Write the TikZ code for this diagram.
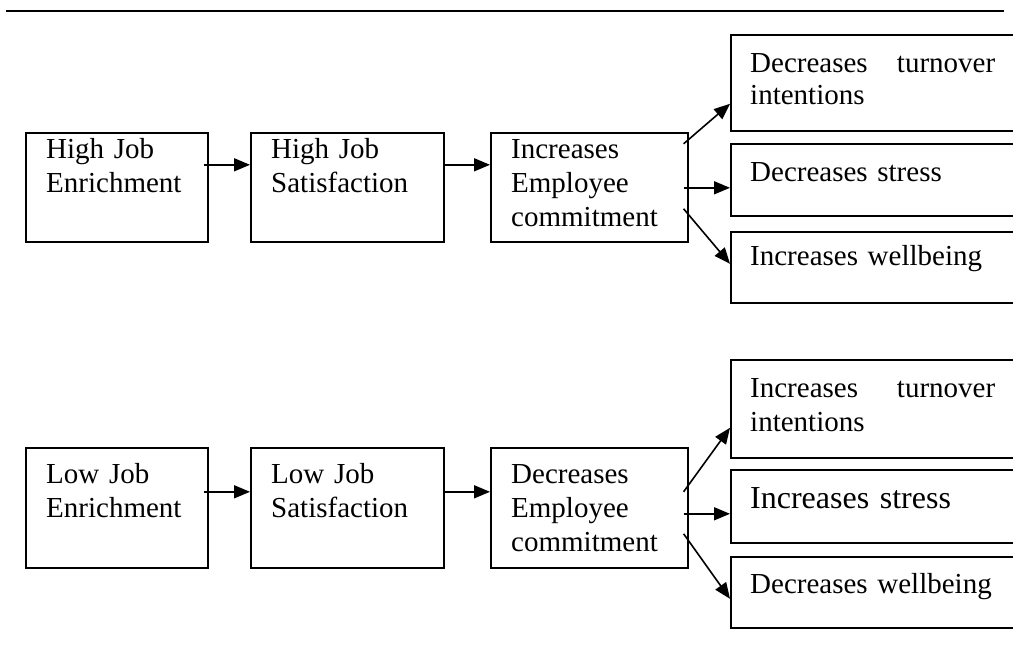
\documentclass[tikz,border=0pt]{standalone}
\usepackage{fontspec}
\setmainfont{Liberation Serif}
\usetikzlibrary{arrows.meta}
\begin{document}
\begin{tikzpicture}[x=1pt,y=-1pt,
  box/.style={draw, line width=1.6pt, rectangle, inner sep=0pt, anchor=north west},
  lbl/.style={anchor=base west, inner sep=0pt, align=left,
              font=\fontsize{29}{34}\selectfont},
  arr/.style={line width=1.6pt, -{Triangle[length=16pt,width=13pt]}},
  rule/.style={line width=1.5pt}]
\useasboundingbox (0,0) rectangle (1013,651);
\clip (0,0) rectangle (1013,651);

% header rule
\coordinate (rl) at (6,11);
\coordinate (rr) at (1004,11);
\draw[rule] (rl) -- (rr);

% ---- high enrichment chain ----
\node[box, minimum width=182pt, minimum height=109pt] (hje) at (25,132) {};
\node[box, minimum width=193pt, minimum height=109pt] (hjs) at (250,132) {};
\node[box, minimum width=197pt, minimum height=109pt] (iec) at (490,132) {};
\node[box, minimum width=300pt, minimum height=96pt]  (dti) at (730,34) {};
\node[box, minimum width=300pt, minimum height=72pt]  (dst) at (730,143) {};
\node[box, minimum width=300pt, minimum height=71pt]  (iwb) at (730,231) {};

\node[lbl, text width=160pt] (thje) at (46,158) {High Job\\Enrichment};
\node[lbl, text width=170pt] (thjs) at (271,158) {High Job\\Satisfaction};
\node[lbl, text width=175pt] (tiec) at (511,158) {Increases\\Employee\\commitment};
\node[lbl, text width=245pt, font=\fontsize{29}{32}\selectfont] (tdti) at (750,72)
  {Decreases\hfill turnover\\intentions};
\node[lbl, text width=245pt] (tdst) at (750,181) {Decreases stress};
\node[lbl, text width=245pt] (tiwb) at (750,265) {Increases wellbeing};

\draw[arr] ([xshift=-5pt,yshift=22.5pt]hje.east) -- ([yshift=22.5pt]hjs.west);
\draw[arr] ([yshift=22.5pt]hjs.east) -- ([yshift=22.5pt]iec.west);
\draw[arr] ([xshift=-5pt,yshift=43.5pt]iec.east) -- ([yshift=-21pt]dti.west);
\draw[arr] ([xshift=-5pt,yshift=-0.5pt]iec.east) -- ([yshift=-8pt]dst.west);
\draw[arr] ([xshift=-5pt,yshift=-21.5pt]iec.east) -- ([yshift=3.5pt]iwb.west);

% ---- low enrichment chain ----
\node[box, minimum width=182pt, minimum height=120pt] (lje) at (25,447) {};
\node[box, minimum width=193pt, minimum height=120pt] (ljs) at (250,447) {};
\node[box, minimum width=197pt, minimum height=120pt] (dec) at (490,447) {};
\node[box, minimum width=300pt, minimum height=98pt]  (iti) at (730,359) {};
\node[box, minimum width=300pt, minimum height=73pt]  (ist) at (730,469) {};
\node[box, minimum width=300pt, minimum height=71pt]  (dwb) at (730,556) {};

\node[lbl, text width=160pt] (tlje) at (46,483) {Low Job\\Enrichment};
\node[lbl, text width=170pt] (tljs) at (271,483) {Low Job\\Satisfaction};
\node[lbl, text width=175pt] (tdec) at (511,483) {Decreases\\Employee\\commitment};
\node[lbl, text width=245pt] (titi) at (750,397) {Increases\hfill turnover\\intentions};
\node[lbl, text width=245pt, font=\fontsize{32}{36}\selectfont] (tist) at (750,508) {Increases stress};
\node[lbl, text width=245pt] (tdwb) at (750,593) {Decreases wellbeing};

\draw[arr] ([xshift=-5pt,yshift=16pt]lje.east) -- ([yshift=16pt]ljs.west);
\draw[arr] ([yshift=16pt]ljs.east) -- ([yshift=16pt]dec.west);
\draw[arr] ([xshift=-5pt,yshift=16pt]dec.east) -- ([yshift=-19pt]iti.west);
\draw[arr] ([xshift=-5pt,yshift=-6pt]dec.east) -- ([yshift=-7.5pt]ist.west);
\draw[arr] ([xshift=-5pt,yshift=-26pt]dec.east) -- ([yshift=-6.5pt]dwb.west);
\end{tikzpicture}
\end{document}
